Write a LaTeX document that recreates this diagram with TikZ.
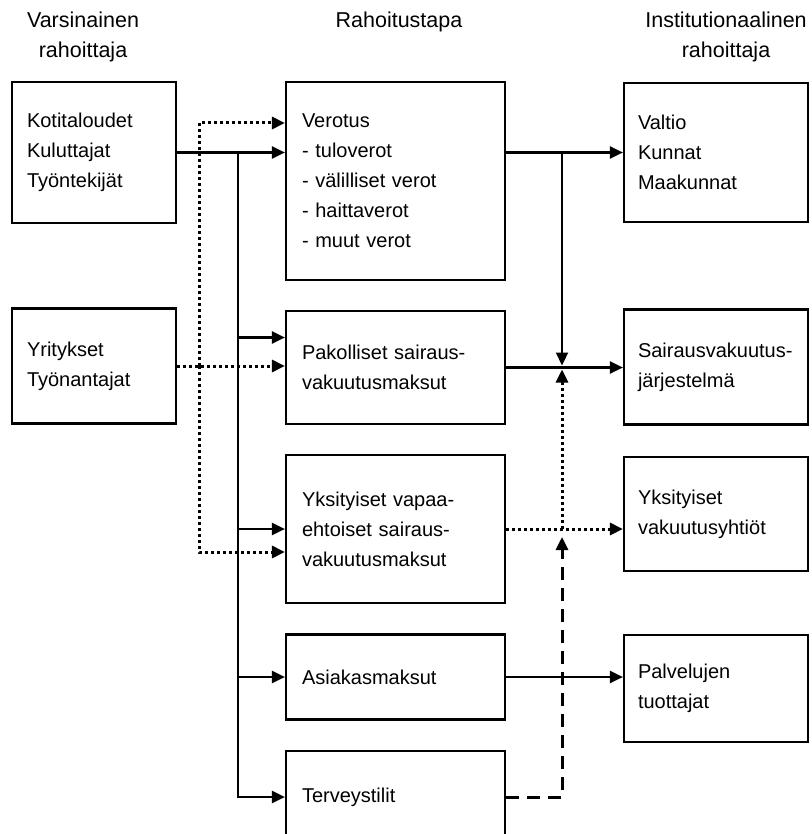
\documentclass[tikz,border=0pt]{standalone}
\usepackage{fontspec}
\setmainfont{Liberation Sans}
\usetikzlibrary{arrows.meta,positioning}

\begin{document}
\begin{tikzpicture}[x=1pt,y=-1pt,
 box/.style={draw,line width=2.2pt,align=left,inner xsep=16pt,font=\fontsize{20}{30}\selectfont},
 srcbox/.style={box,inner xsep=15pt,text width=134pt},
 waybox/.style={box,text width=187pt},
 instbox/.style={box,inner xsep=14pt,text width=156pt},
 head/.style={align=center,font=\fontsize{21.5}{30}\selectfont},
 flow/.style={line width=2.2pt,-{Triangle[length=13pt,width=12pt]}},
 dotflow/.style={flow,line width=3pt,dash pattern=on 3pt off 3pt},
 dashflow/.style={flow,line width=3pt,dash pattern=on 13pt off 8pt}]
 \useasboundingbox (0,0) rectangle (811,834);
 \clip (0,0) rectangle (811,834);

 \node[head] (h_src) at (83,37) {Varsinainen\\rahoittaja};
 \node[head] (h_way) at (399,22) {Rahoitustapa};
 \node[head] (h_inst) at (726,37) {Institutionaalinen\\rahoittaja};

 \node[srcbox,minimum height=141pt] (f_koti) at (94,152.5) {Kotitaloudet\\Kuluttajat\\Työntekijät};
 \node[srcbox,minimum height=115pt] (f_yrit) at (94,366) {Yritykset\\Työnantajat};

 \node[waybox,minimum height=198pt] (m_vero) at (395.5,181) {Verotus\\- tuloverot\\- välilliset verot\\- haittaverot\\- muut verot};
 \node[waybox,minimum height=113pt] (m_pakol) at (395.5,367.5) {Pakolliset sairaus-\\vakuutusmaksut};
 \node[waybox,minimum height=148pt] (m_vapaa) at (395.5,529) {Yksityiset vapaa-\\ehtoiset sairaus-\\vakuutusmaksut};
 \node[waybox,minimum height=85pt] (m_asiak) at (395.5,677) {Asiakasmaksut};
 \node[waybox,minimum height=92pt] (m_terv) at (395.5,797) {Terveystilit};

 \node[instbox,minimum height=139pt] (i_valtio) at (716,152.5) {Valtio\\Kunnat\\Maakunnat};
 \node[instbox,minimum height=115pt] (i_sv) at (716,367) {Sairausvakuutus-\\järjestelmä};
 \node[instbox,minimum height=114pt] (i_yv) at (716,514) {Yksityiset\\vakuutusyhtiöt};
 \node[instbox,minimum height=107pt] (i_palv) at (716,688.5) {Palvelujen\\tuottajat};

 \coordinate (trunk) at (238,152.5);
 \coordinate (dotx) at (199,366);
 \coordinate (join) at (562,152.5);
 \coordinate (pak_in) at ([yshift=30pt]m_pakol.west);
 \coordinate (vero_in) at ([yshift=58pt]m_vero.west);
 \coordinate (vapaa_in) at ([yshift=-23pt]m_vapaa.west);

 \draw[flow] (f_koti.east) -- (f_koti.east -| m_vero.west);
 \draw[flow] (trunk) |- (m_terv.west);
 \path[flow]
 (trunk |- pak_in) edge (pak_in)
 (trunk |- m_vapaa.west) edge (m_vapaa.west)
 (trunk |- m_asiak.west) edge (m_asiak.west);

 \draw[dotflow] (f_yrit.east) -- (f_yrit.east -| m_pakol.west);
 \draw[dotflow] (dotx) |- (vero_in);
 \draw[dotflow] (dotx) |- (vapaa_in);

 \draw[flow] (m_vero.east |- i_valtio.west) -- (i_valtio.west);
 \draw[flow,shorten >=2pt] (join) -- (join |- m_pakol.east);
 \draw[flow] (m_pakol.east) -- (m_pakol.east -| i_sv.west);
 \draw[dotflow] (m_vapaa.east) -- (m_vapaa.east -| i_yv.west);
 \draw[dotflow,shorten >=2pt] (join |- m_vapaa.east) -- (join |- m_pakol.east);
 \draw[flow] (m_asiak.east) -- (m_asiak.east -| i_palv.west);
 \draw[dashflow,shorten >=8pt] (m_terv.east) -| (join |- m_vapaa.east);
\end{tikzpicture}
\end{document}
